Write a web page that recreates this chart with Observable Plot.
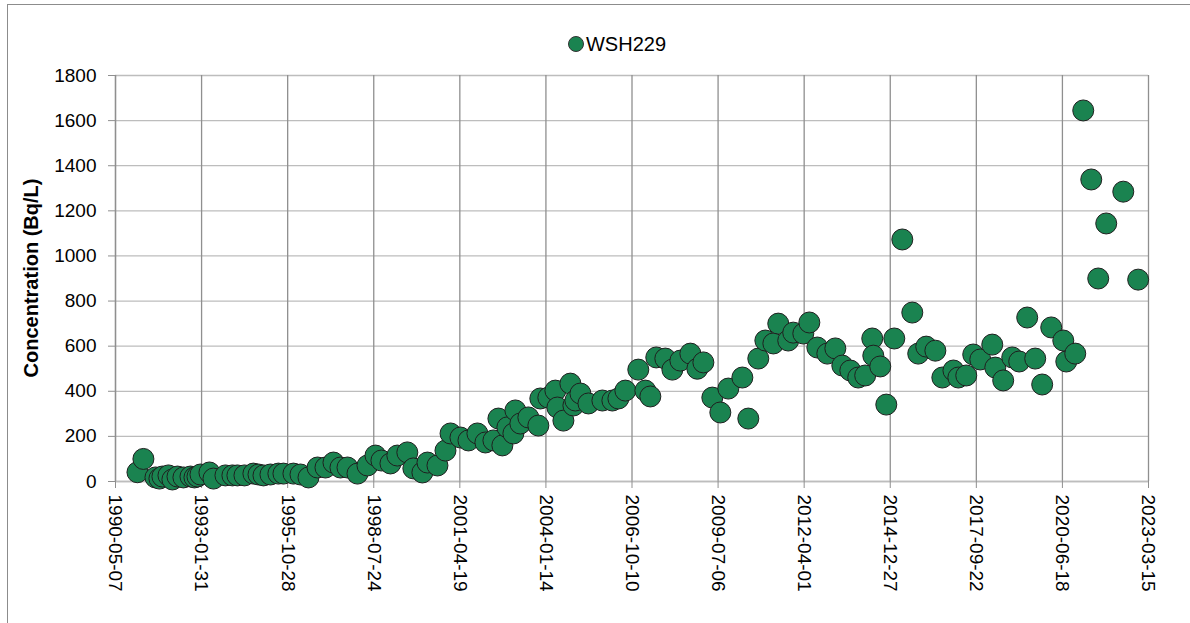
<!DOCTYPE html>
<html>
<head>
<meta charset="utf-8">
<script src="https://cdn.jsdelivr.net/npm/d3@7"></script>
<script src="https://cdn.jsdelivr.net/npm/@observablehq/plot@0.6"></script>
<style>
  html, body { margin: 0; padding: 0; background: #fff; }
  #wrap { position: relative; width: 1190px; height: 623px; overflow: hidden; font-family: "Liberation Sans", Arial, sans-serif; }
  #frame { position: absolute; left: 7px; top: 4px; width: 1200px; height: 640px; border-left: 1px solid #8c8c8c; border-top: 1px solid #8c8c8c; pointer-events: none; }
  #legend { position: absolute; top: 33px; left: 22px; width: 1190px; text-align: center; font-size: 20px; color: #000; }
  #legend .sw { display: inline-block; width: 14px; height: 14px; border-radius: 50%; background: #1a8350; border: 1px solid #333; vertical-align: -1px; margin-right: 2px; }
  #ylab { position: absolute; left: 31px; top: 278px; transform: translate(-50%, -50%) rotate(-90deg); font-size: 20px; font-weight: bold; white-space: nowrap; }
</style>
</head>
<body>
<div id="wrap">
  <div id="chart"></div>
  <div id="frame"></div>
  <div id="legend"><span class="sw"></span>WSH229</div>
  <div id="ylab">Concentration (Bq/L)</div>
</div>
<script>
const seriesName = "WSH229";
const xTickLabels = ["1990-05-07","1993-01-31","1995-10-28","1998-07-24","2001-04-19","2004-01-14","2006-10-10","2009-07-06","2012-04-01","2014-12-27","2017-09-22","2020-06-18","2023-03-15"];
const yTicks = [0,200,400,600,800,1000,1200,1400,1600,1800];

const dates = [
"1991-01-17","1991-03-27","1991-08-14","1991-09-29","1991-11-03","1992-01-12","1992-02-27","1992-04-26","1992-07-04","1992-09-24",
"1992-11-09","1992-12-14","1993-01-18","1993-05-02","1993-06-18","1993-11-04","1994-01-24","1994-03-23","1994-06-13","1994-09-25",
"1994-11-23","1995-01-20","1995-04-11","1995-07-12","1995-09-09","1996-01-03","1996-03-25","1996-06-26","1996-10-09","1997-01-09",
"1997-04-12","1997-07-02","1997-09-22","1998-01-16","1998-05-12","1998-08-13","1998-10-21","1999-02-03","1999-04-24","1999-08-18",
"1999-10-27","2000-02-09","2000-04-08","2000-08-02","2000-11-03","2001-01-01","2001-04-26","2001-07-28","2001-11-09","2002-02-10",
"2002-05-14","2002-07-11","2002-08-26","2002-10-23","2003-01-01","2003-01-24","2003-03-23","2003-06-24","2003-10-18","2003-11-10",
"2004-02-11","2004-05-03","2004-05-26","2004-08-04","2004-10-24","2004-11-28","2004-12-21","2005-02-18","2005-05-22","2005-10-31",
"2006-02-24","2006-05-05","2006-07-25","2006-12-22","2007-03-14","2007-05-11","2007-07-19","2007-11-01","2008-01-22","2008-04-24",
"2008-08-18","2008-11-07","2009-01-16","2009-04-30","2009-08-01","2009-11-02","2010-04-14","2010-06-22","2010-10-16","2011-01-06",
"2011-04-09","2011-06-05","2011-09-29","2011-11-26","2012-03-22","2012-05-31","2012-09-01","2012-12-26","2013-03-29","2013-06-18",
"2013-09-19","2013-12-20","2014-03-11","2014-06-01","2014-06-13","2014-09-02","2014-11-11","2015-02-12","2015-05-16","2015-09-09",
"2015-11-17","2016-02-18","2016-06-03","2016-08-23","2016-12-30","2017-02-25","2017-05-28","2017-08-17","2017-11-07","2018-03-26",
"2018-04-30","2018-07-31","2018-11-13","2019-02-02","2019-05-06","2019-08-07","2019-10-27","2020-02-09","2020-06-28","2020-08-02",
"2020-11-14","2021-02-15","2021-05-19","2021-08-08","2021-11-09","2022-05-26","2022-11-15"
];
const values = [
41,100,18,13,22,27,9,22,18,22,
18,22,31,40,13,27,27,27,27,35,
31,27,31,35,35,35,31,18,62,62,
84,62,62,35,71,115,93,80,115,129,
58,40,84,71,137,213,195,182,213,173,
182,279,160,240,213,315,257,284,248,368,
372,403,328,270,434,337,359,390,346,359,
359,368,403,496,403,377,550,545,496,536,
567,500,528,372,306,412,461,279,545,625,
612,700,625,660,656,705,594,567,590,514,
492,461,470,634,558,510,341,634,1073,749,
567,598,580,461,492,461,470,563,541,607,
505,448,550,532,727,545,430,683,625,532,
567,1645,1339,900,1144,1285,895
];

const parse = d3.utcParse("%Y-%m-%d");
const data = dates.map((d, i) => ({date: parse(d), value: values[i], series: seriesName}));
const xTicks = xTickLabels.map(parse);

const chart = Plot.plot({
  width: 1190,
  height: 623,
  marginLeft: 115,
  marginRight: 42,
  marginTop: 75,
  marginBottom: 142,
  style: {fontFamily: "'Liberation Sans', Arial, sans-serif", fontSize: "18px", color: "#000", background: "#fff"},
  x: {type: "utc", domain: [xTicks[0], xTicks[xTicks.length - 1]]},
  y: {domain: [0, 1800]},
  marks: [
    Plot.gridY(yTicks, {stroke: "#bdbdbd", strokeOpacity: 1, strokeWidth: 1.3}),
    Plot.gridX(xTicks, {stroke: "#8f8f8f", strokeOpacity: 1, strokeWidth: 1.3}),
    Plot.ruleY([0], {stroke: "#bdbdbd", strokeWidth: 1.5}),
    Plot.ruleX([xTicks[0]], {stroke: "#8f8f8f", strokeWidth: 1.3}),
    Plot.axisY({ticks: yTicks, tickSize: 7, tickPadding: 12, stroke: "#8f8f8f", fontSize: 19, tickFormat: d => String(d), label: null}),
    Plot.axisX({ticks: xTicks, tickSize: 7, tickPadding: 6, tickRotate: 90, stroke: "#8f8f8f", fontSize: 19, tickFormat: d3.utcFormat("%Y-%m-%d"), label: null}),
    Plot.dot(data, {x: "date", y: "value", r: 10.5, fill: "#1a8350", stroke: "#1f1f1f", strokeWidth: 1, fillOpacity: 1})
  ]
});
document.getElementById("chart").appendChild(chart);
</script>
</body>
</html>
